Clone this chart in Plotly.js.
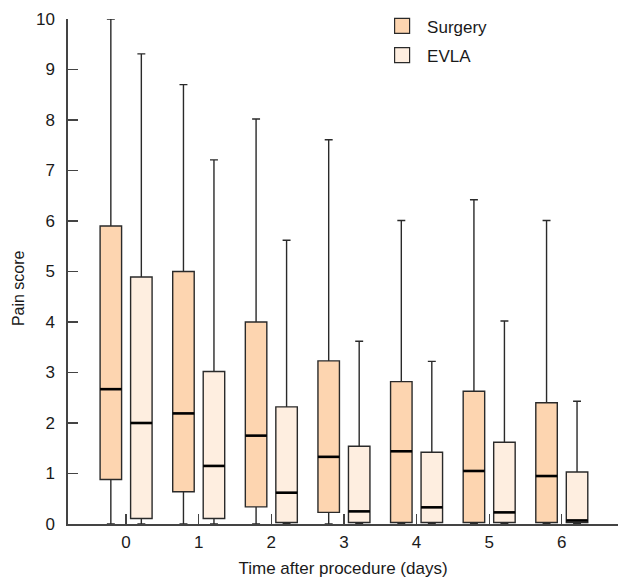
<!DOCTYPE html>
<html>
<head>
<meta charset="utf-8">
<script src="https://cdn.plot.ly/plotly-3.0.1.min.js"></script>
<style>html,body{margin:0;padding:0;background:#fff;}#chart{width:618px;height:579px;}</style>
</head>
<body>
<div id="chart"></div>
<script>
// Data
var days = [0, 1, 2, 3, 4, 5, 6];
var dayLabels = ['0', '1', '2', '3', '4', '5', '6'];

var surgeryMax    = [10.0, 8.70, 8.02, 7.61, 6.01, 6.42, 6.01];
var surgeryQ3     = [5.90, 5.00, 4.00, 3.23, 2.82, 2.63, 2.40];
var surgeryMedian = [2.67, 2.19, 1.75, 1.33, 1.44, 1.05, 0.95];
var surgeryQ1     = [0.88, 0.64, 0.34, 0.23, 0.03, 0.03, 0.03];
var surgeryMin    = [0, 0, 0, 0, 0, 0, 0];

var evlaMax    = [9.31, 7.21, 5.62, 3.62, 3.22, 4.02, 2.43];
var evlaQ3     = [4.89, 3.02, 2.32, 1.54, 1.42, 1.62, 1.03];
var evlaMedian = [2.00, 1.15, 0.62, 0.25, 0.33, 0.23, 0.07];
var evlaQ1     = [0.11, 0.11, 0.03, 0.03, 0.03, 0.03, 0.03];
var evlaMin    = [0, 0, 0, 0, 0, 0, 0];

// Styling
var FONT = '"Liberation Sans", Arial, Helvetica, sans-serif';
var TEXT = '#1a1a1a';
var SURGERY_FILL = '#fdd5b0';
var EVLA_FILL = '#feeee0';
var EDGE = '#2a2a2a';
var BOX_W = 0.296;
var OFFSET = 0.21;

function boxTrace(name, offset, fill, q1, med, q3, lo, hi) {
  return {
    type: 'box',
    name: name,
    showlegend: false,
    x: days.map(function (d) { return d + offset; }),
    q1: q1, median: med, q3: q3, lowerfence: lo, upperfence: hi,
    boxpoints: false,
    width: BOX_W,
    whiskerwidth: 0.37,
    fillcolor: fill,
    line: {color: EDGE, width: 1.4},
    hoverinfo: 'skip'
  };
}

function medianTrace(offset, med) {
  var xs = [], ys = [];
  days.forEach(function (d, i) {
    xs.push(d + offset - BOX_W / 2, d + offset + BOX_W / 2, null);
    ys.push(med[i], med[i], null);
  });
  return {
    type: 'scatter', mode: 'lines', x: xs, y: ys,
    line: {color: '#000', width: 2.6},
    showlegend: false, hoverinfo: 'skip', cliponaxis: false
  };
}

function legendTrace(name, fill, group) {
  return {
    type: 'scatter', mode: 'markers', name: name, legendgroup: group,
    x: [null], y: [null],
    marker: {symbol: 'square', size: 15, color: fill, line: {color: EDGE, width: 1.2}},
    showlegend: true, hoverinfo: 'skip'
  };
}

var traces = [
  boxTrace('Surgery', -OFFSET, SURGERY_FILL, surgeryQ1, surgeryMedian, surgeryQ3, surgeryMin, surgeryMax),
  boxTrace('EVLA', OFFSET, EVLA_FILL, evlaQ1, evlaMedian, evlaQ3, evlaMin, evlaMax),
  medianTrace(-OFFSET, surgeryMedian),
  medianTrace(OFFSET, evlaMedian),
  legendTrace('Surgery', SURGERY_FILL, 'g1'),
  legendTrace('EVLA', EVLA_FILL, 'g2')
];

var layout = {
  width: 618, height: 579,
  margin: {l: 68, r: 0, t: 19, b: 55},
  paper_bgcolor: '#fff', plot_bgcolor: '#fff',
  font: {family: FONT, size: 17, color: TEXT},
  boxmode: 'overlay',
  showlegend: true,
  legend: {
    x: 0.562, y: 1.021, xanchor: 'left', yanchor: 'top',
    bgcolor: 'rgba(0,0,0,0)', borderwidth: 0,
    font: {family: FONT, size: 17, color: TEXT},
    itemwidth: 40, tracegroupgap: 4
  },
  xaxis: {
    range: [-0.8, 6.774],
    tickmode: 'array', tickvals: days, ticktext: dayLabels,
    ticks: 'inside', ticklen: 10, tickwidth: 1.3, tickcolor: '#444',
    showline: true, linecolor: '#444', linewidth: 1.6,
    showgrid: false, zeroline: false,
    ticklabelstandoff: 2,
    tickfont: {family: FONT, size: 17, color: TEXT},
    title: {text: 'Time after procedure (days)', font: {family: FONT, size: 17, color: TEXT}, standoff: 11}
  },
  yaxis: {
    range: [0, 10],
    tickmode: 'linear', tick0: 0, dtick: 1,
    ticks: 'inside', ticklen: 10, tickwidth: 1.3, tickcolor: '#444',
    showline: true, linecolor: '#444', linewidth: 1.6,
    showgrid: false, zeroline: false,
    ticklabelstandoff: 8,
    tickfont: {family: FONT, size: 17, color: TEXT}
  },
  annotations: [{
    text: 'Pain score', textangle: -90, showarrow: false,
    xref: 'paper', yref: 'paper', x: -0.091, y: 0.467,
    xanchor: 'center', yanchor: 'middle',
    font: {family: FONT, size: 16, color: TEXT}
  }]
};

Plotly.newPlot('chart', traces, layout, {staticPlot: true, displayModeBar: false});
</script>
</body>
</html>
